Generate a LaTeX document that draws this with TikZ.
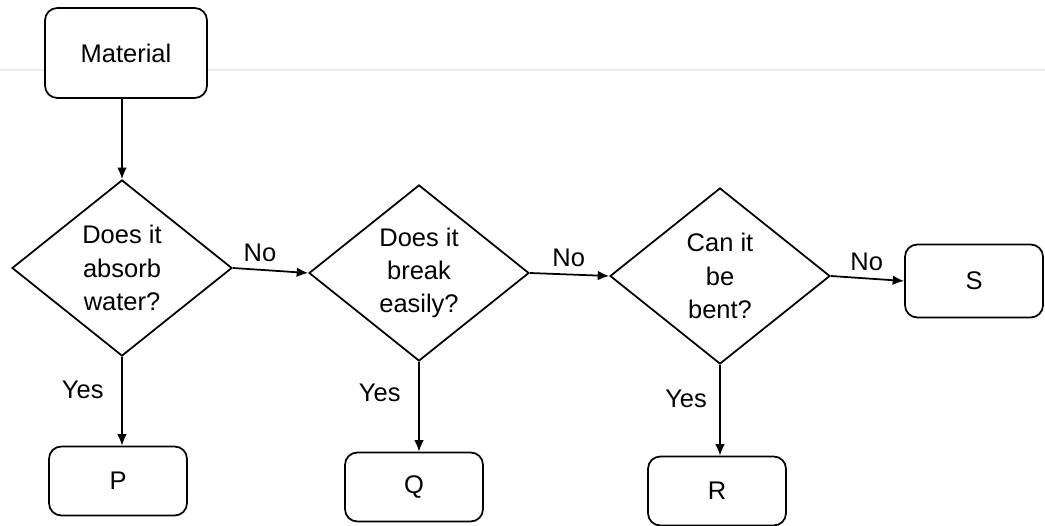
\documentclass[tikz,border=0pt]{standalone}
\usepackage{fontspec}
\setmainfont{Liberation Sans}
\usepackage{tikz}
\usetikzlibrary{arrows.meta}
\usetikzlibrary{positioning}
\usetikzlibrary{shapes.geometric}
\tikzset{box/.style = {draw, rounded corners = 7pt, fill = white, line width = 1pt,
                       minimum width = 2.76cm, minimum height = 1.38cm}}
\tikzset{decision/.style = {draw, diamond, line width = 1pt, align = center,
                            inner sep = 0, minimum width = 4.4cm, minimum height = 3.52cm}}
\tikzset{flow/.style = {line width = 1pt, -{Latex[length=6.5pt, width=5.5pt]}}}
\tikzset{lbl/.style = {inner sep = 4pt}}

\begin{document}
\begin{tikzpicture}[font=\fontsize{14.5}{19}\selectfont]
          \useasboundingbox (0, 0) rectangle (20.9, -10.52);
          \draw [black!8, line width = 1.2pt] (0, -1.4) -- (20.9, -1.4);
          \node [box, minimum width = 3.24cm, minimum height = 1.8cm] (mat) at (2.52, -1.06) {Material};
          \node [decision] (d1) at (2.44, -5.36) {Does it\\absorb\\water?};
          \node [decision] (d2) at (8.38, -5.46) {Does it\\break\\easily?};
          \node [decision] (d3) at (14.40, -5.52) {Can it\\be\\bent?};
          \node [box, minimum height = 1.46cm] (s) at (19.48, -5.62) {S};
          \node [box] (p) at (2.36, -9.62) {P};
          \node [box] (q) at (8.28, -9.74) {Q};
          \node [box] (r) at (14.34, -9.82) {R};
          \draw [flow] (d1.north |- mat.south) -- (d1.north);
          \draw [flow] (d1.east) -- (d2.west) node [lbl, above, pos = .36] {No};
          \draw [flow] (d2.east) -- (d3.west) node [lbl, above, pos = .49] {No};
          \draw [flow] (d3.east) -- (s.west) node [lbl, above, pos = .49] {No};
          \draw [flow] (d1.south) -- (d1.south |- p.north) node [lbl, left = 6pt, pos = .37] {Yes};
          \draw [flow] (d2.south) -- (d2.south |- q.north) node [lbl, left = 6pt, pos = .35] {Yes};
          \draw [flow] (d3.south) -- (d3.south |- r.north) node [lbl, left = 3pt, pos = .37] {Yes};
        \end{tikzpicture}
\end{document}
